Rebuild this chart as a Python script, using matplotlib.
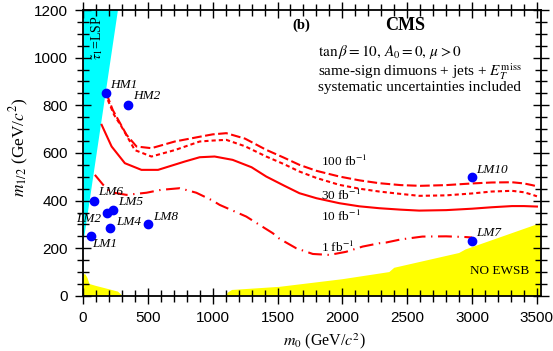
import matplotlib
matplotlib.use("Agg")
import matplotlib.pyplot as plt
from matplotlib.ticker import MultipleLocator

plt.rcParams['font.family'] = 'serif'
plt.rcParams['font.serif'] = ['Liberation Serif', 'DejaVu Serif']
plt.rcParams['mathtext.fontset'] = 'stix'
plt.rcParams['lines.scale_dashes'] = False

# reach contours (m0, m1/2)
x100 = [180, 230, 272, 336, 413, 528, 708, 900, 1000, 1105, 1250, 1413, 1550, 1669, 1800, 1977,
        2131, 2285, 2450, 2600, 2800, 3000, 3150, 3308, 3400, 3462, 3500]
y100 = [851, 780, 739, 676, 627, 620, 648, 668, 678, 683, 660, 613, 580, 550, 525, 501,
        485, 473, 465, 462, 465, 472, 476, 477, 472, 465, 460]
x30 = [192, 240, 298, 400, 528, 708, 900, 1000, 1105, 1250, 1413, 1550, 1669, 1800, 1977,
       2131, 2285, 2450, 2592, 2800, 3000, 3150, 3308, 3400, 3462, 3500]
y30 = [822, 760, 710, 612, 585, 612, 648, 652, 655, 628, 585, 553, 522, 495, 466,
       450, 438, 428, 420, 422, 430, 438, 441, 435, 425, 418]
x10 = [144, 221, 323, 451, 579, 785, 900, 1015, 1154, 1300, 1413, 1550, 1669, 1800, 1977,
       2131, 2285, 2450, 2592, 2800, 3000, 3150, 3308, 3400, 3500]
y10 = [718, 627, 557, 529, 529, 564, 582, 585, 571, 540, 501, 463, 431, 410, 389,
       376, 368, 362, 358, 360, 366, 372, 377, 377, 375]
x1 = [92, 156, 195, 250, 336, 490, 600, 746, 874, 1000, 1054, 1259, 1464, 1515, 1644, 1772,
      1900, 2028, 2156, 2285, 2337, 2450, 2617, 2800, 2951, 3000]
y1 = [508, 466, 445, 432, 424, 433, 445, 452, 433, 400, 382, 333, 263, 240, 200, 176,
      172, 185, 207, 221, 224, 237, 249, 250, 247, 245]

# excluded regions
lsp_x = [0, 8, 270, 0]
lsp_y = [235, 240, 1200, 1200]
ewsb1_x = [0, 0, 20, 35, 50, 100, 200, 270, 295, 300]
ewsb1_y = [0, 92, 90, 75, 50, 42, 28, 18, 5, 0]
ewsb2_x = [1100, 1120, 1150, 1515, 2000, 2362, 2400, 2900, 2950, 3530, 3530]
ewsb2_y = [0, 15, 25, 38, 70, 100, 118, 180, 195, 306, 0]

# benchmark points
pt_names = ['HM1', 'HM2', 'LM1', 'LM2', 'LM4', 'LM5', 'LM6', 'LM8', 'LM7', 'LM10']
pt_x = [180, 350, 60, 185, 210, 230, 85, 500, 3000, 3000]
pt_y = [850, 800, 250, 350, 285, 360, 400, 300, 230, 500]
pt_off = [(4, 8), (5, 9), (1, -8), (-6, -6), (6, 6), (5, 8), (4, 9), (5, 7), (4, 8), (4, 7)]
pt_ha = ['left', 'left', 'left', 'right', 'left', 'left', 'left', 'left', 'left', 'left']

fig = plt.figure(figsize=(5.53, 3.51), dpi=100)
ax = fig.add_axes([0.150, 0.157, 0.828, 0.8145])

ax.fill(lsp_x, lsp_y, color='#00ffff', lw=0, zorder=1)
ax.fill(ewsb1_x, ewsb1_y, color='#ffff00', lw=0, zorder=1)
ax.fill(ewsb2_x, ewsb2_y, color='#ffff00', lw=0, zorder=1)

ax.plot(x100, y100, color='red', lw=1.5, ls=(0, (7, 2.5)), zorder=2)
ax.plot(x30, y30, color='red', lw=1.5, ls=(0, (3, 2.2)), zorder=2)
ax.plot(x10, y10, color='red', lw=1.5, ls='-', zorder=2)
ax.plot(x1, y1, color='red', lw=1.5, ls=(0, (10, 4, 1, 4)), zorder=2)

ax.plot(pt_x, pt_y, 'o', color='#0000ff', ms=6, zorder=3)
for name, px, py, off, ha in zip(pt_names, pt_x, pt_y, pt_off, pt_ha):
    ax.annotate(name, (px, py), xytext=off, textcoords='offset pixels',
                ha=ha, va='center', fontsize=9.5, style='italic', zorder=4)

ax.text(1838, 563, r'100 fb$^{-1}$', fontsize=9.5, va='center')
ax.text(1838, 420, r'30 fb$^{-1}$', fontsize=9.5, va='center')
ax.text(1838, 333, r'10 fb$^{-1}$', fontsize=9.5, va='center')
ax.text(1838, 203, r'1 fb$^{-1}$', fontsize=9.5, va='center')

ax.text(108, 1085, r'$\tilde{\tau}_1$=LSP', rotation=90, fontsize=10, ha='center', va='center')
ax.text(3215, 105, 'NO EWSB', fontsize=9.5, ha='center', va='center')

ax.text(1615, 1137, '(b)', fontsize=10.5, fontweight='bold', va='center')
ax.text(2485, 1137, 'CMS', fontsize=13, fontweight='bold', ha='center', va='center')
ax.text(1815, 1025, r'$\tan\beta = 10,\, A_0 = 0,\, \mu > 0$', fontsize=11, va='center')
ax.text(1815, 941, r'same-sign dimuons + jets + $E_T^{\rm miss}$', fontsize=11, va='center')
ax.text(1815, 873, 'systematic uncertainties included', fontsize=11, va='center')

ax.set_xlim(0, 3530)
ax.set_ylim(0, 1200)
ax.xaxis.set_major_locator(MultipleLocator(500))
ax.xaxis.set_minor_locator(MultipleLocator(100))
ax.yaxis.set_major_locator(MultipleLocator(200))
ax.yaxis.set_minor_locator(MultipleLocator(50))
ax.tick_params(which='both', direction='inout', top=True, right=True, width=1,
               labelsize=11, labelfontfamily='Liberation Sans', pad=5)
ax.tick_params(which='major', length=12)
ax.tick_params(which='minor', length=8)
for sp in ax.spines.values():
    sp.set_linewidth(1.3)
    sp.set_zorder(5)

ax.set_xlabel(r'$m_0$ (GeV/$c^2$)', fontsize=11.5)
ax.set_ylabel(r'$m_{1/2}$ (GeV/$c^2$)', fontsize=12.5)
ax.xaxis.set_label_coords(0.528, -0.122)
ax.yaxis.set_label_coords(-0.113, 0.52)

fig.savefig('out.png', dpi=100)
